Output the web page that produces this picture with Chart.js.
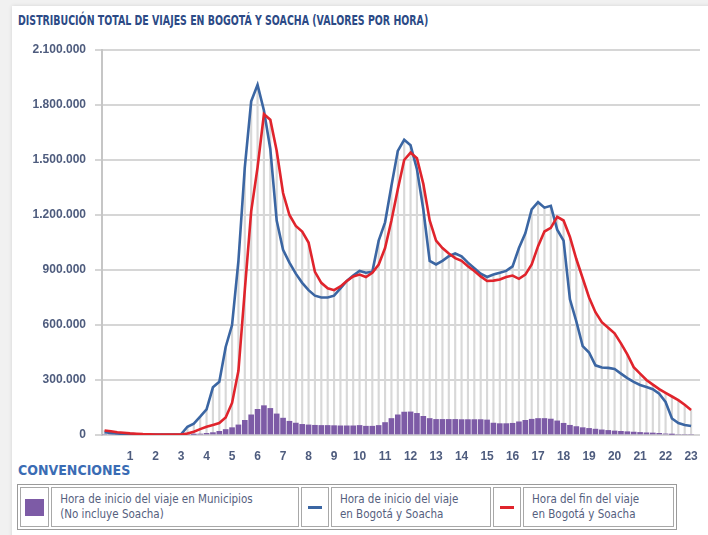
<!DOCTYPE html>
<html>
<head>
<meta charset="utf-8">
<script src="https://cdn.jsdelivr.net/npm/chart.js@4.4.1/dist/chart.umd.min.js"></script>
<style>
  html, body { margin: 0; padding: 0; }
  body { width: 708px; height: 535px; background: #f1f1f1; position: relative; overflow: hidden;
         font-family: "DejaVu Sans Condensed", "Liberation Sans", sans-serif; }
  #panel { position: absolute; left: 12px; top: 6px; width: 700px; height: 535px; background: #fff;
           box-shadow: 0 0 4px rgba(0,0,0,0.12); }
  #title { position: absolute; left: 18px; top: 12px; font-size: 14.5px; font-weight: bold; color: #2c4a86;
           white-space: nowrap; transform-origin: 0 0; }
  #chart { position: absolute; left: 0; top: 0; }
  #conv { position: absolute; left: 18px; top: 462px; font-size: 14px; font-weight: bold; color: #3a6cb4;
          white-space: nowrap; transform-origin: 0 0; }
  #legend { position: absolute; left: 17px; top: 484px; width: 660px; height: 46px; table-layout: fixed;
            border: 1px solid #9a9a9a; border-collapse: separate; border-spacing: 2px; }
  #legend td { border: 1px solid #a8a8a8; padding: 0 0 0 8px; font-size: 11.5px; line-height: 15px;
               color: #55607e; vertical-align: middle; white-space: nowrap; overflow: hidden; }
  #legend td.sw { padding: 0; text-align: center; }
  .sq { display: inline-block; width: 19px; height: 17px; background: #7d5ba6; vertical-align: middle; }
  .dash { display: inline-block; width: 14px; height: 3px; vertical-align: middle; }
</style>
</head>
<body>
<div id="panel"></div>
<div id="title">DISTRIBUCIÓN TOTAL DE VIAJES EN BOGOTÁ Y SOACHA (VALORES POR HORA)</div>
<canvas id="chart" width="708" height="460"></canvas>
<div id="conv">CONVENCIONES</div>
<table id="legend">
  <colgroup>
    <col style="width:29px"><col style="width:246px"><col style="width:28px">
    <col style="width:159px"><col style="width:28px"><col style="width:150px">
  </colgroup>
  <tr>
    <td class="sw"><span class="sq"></span></td>
    <td>Hora de inicio del viaje en Municipios<br>(No incluye Soacha)</td>
    <td class="sw"><span class="dash" style="background:#3b66a3"></span></td>
    <td>Hora de inicio del viaje<br>en Bogotá y Soacha</td>
    <td class="sw"><span class="dash" style="background:#e0242c"></span></td>
    <td>Hora del fin del viaje<br>en Bogotá y Soacha</td>
  </tr>
</table>
<script>
// quarter-hour slots 0:00 .. 23:00
const hours = Array.from({ length: 93 }, (_, i) => i / 4);
const hourTicks = [1, 2, 3, 4, 5, 6, 7, 8, 9, 10, 11, 12, 13, 14, 15, 16, 17, 18, 19, 20, 21, 22, 23];
const yTicks = [0, 300000, 600000, 900000, 1200000, 1500000, 1800000, 2100000];

// values in thousands of trips
const inicioBogota = [
  15, 11, 8, 6, 5, 4, 4, 3, 3, 3, 3, 3, 4, 45, 62, 100,
  140, 260, 290, 480, 600, 950, 1460, 1820, 1910, 1770, 1560, 1170, 1010, 940, 880, 830,
  790, 760, 750, 750, 760, 800, 840, 870, 895, 885, 890, 1060, 1160, 1360, 1550, 1610,
  1580, 1450, 1230, 950, 930, 950, 975, 990, 975, 940, 910, 880, 862, 875, 885, 895,
  920, 1020, 1100, 1230, 1270, 1240, 1250, 1120, 1060, 740, 620, 485, 450, 380, 368, 366,
  360, 335, 310, 290, 273, 262, 250, 225, 180, 90, 65, 54, 49
];
const finBogota = [
  25, 20, 15, 12, 9, 7, 5, 4, 3, 2, 2, 2, 2, 8, 18, 32,
  45, 55, 65, 95, 175, 350, 790, 1220, 1460, 1750, 1720, 1550, 1320, 1200, 1140, 1110,
  1050, 890, 830, 800, 790, 810, 840, 865, 875, 862, 885, 930, 1020, 1170, 1340, 1500,
  1540, 1510, 1370, 1170, 1060, 1020, 990, 965, 950, 920, 895, 865, 840, 842, 848, 862,
  870, 852, 875, 930, 1030, 1110, 1130, 1190, 1170, 1080, 960, 855, 750, 670, 615, 585,
  555, 500, 440, 370, 335, 300, 275, 250, 230, 210, 190, 165, 136
];
const inicioMunicipios = [
  0, 0, 0, 0, 0, 0, 0, 0, 0, 0, 0, 0, 0, 0, 3, 5,
  9, 13, 20, 30, 40, 55, 80, 110, 140, 160, 145, 115, 92, 75, 65, 58,
  55, 53, 52, 52, 51, 50, 50, 50, 52, 48, 48, 52, 68, 90, 110, 125,
  126, 118, 102, 90, 85, 85, 85, 85, 84, 84, 84, 84, 82, 65, 62, 62,
  64, 72, 80, 86, 90, 90, 87, 77, 64, 53, 46, 40, 36, 32, 28, 25,
  22, 20, 18, 16, 14, 12, 11, 9, 6, 3, 0, 0, 0
];

const pts = arr => arr.map((v, i) => ({ x: hours[i], y: v * 1000 }));
// thin grey drop lines up to the higher of the two curves
const dropLines = inicioBogota.map((v, i) => Math.max(v, finBogota[i]));

const tickFont = { family: "'Liberation Sans', Arial, sans-serif", size: 12, weight: 'bold' };
const fmt = v => String(v).replace(/\B(?=(\d{3})+(?!\d))/g, '.');

function fitWidth(id, w) {
  const el = document.getElementById(id);
  el.style.transform = 'scaleX(' + (w / el.offsetWidth) + ')';
}
fitWidth('title', 410);
fitWidth('conv', 112);

new Chart(document.getElementById('chart').getContext('2d'), {
  type: 'bar',
  data: {
    datasets: [
      { type: 'line', data: pts(finBogota), borderColor: '#e0242c', borderWidth: 2.6, pointRadius: 0, tension: 0, order: 0 },
      { type: 'line', data: pts(inicioBogota), borderColor: '#3b66a3', borderWidth: 2.6, pointRadius: 0, tension: 0, order: 1 },
      { type: 'bar', data: pts(inicioMunicipios), backgroundColor: '#7d5ba6', barThickness: 5, grouped: false, order: 2 },
      { type: 'bar', data: pts(dropLines), backgroundColor: '#d8d8d8', barThickness: 1.5, grouped: false, order: 3 }
    ]
  },
  options: {
    responsive: false,
    animation: false,
    layout: { padding: { top: 50, right: 8, left: 0, bottom: 0 } },
    plugins: { legend: { display: false }, tooltip: { enabled: false } },
    scales: {
      x: {
        type: 'linear', min: -0.1, max: 23.35, offset: false,
        grid: { display: false }, border: { display: false },
        afterBuildTicks: s => { s.ticks = hourTicks.map(v => ({ value: v })); },
        afterFit: s => { s.height = 25; },
        ticks: { font: tickFont, color: '#4e5c7e', padding: 6, maxRotation: 0, autoSkip: false }
      },
      y: {
        min: 0, max: 2100000,
        afterBuildTicks: s => { s.ticks = yTicks.map(v => ({ value: v })); },
        afterFit: s => { s.width = 102; },
        grid: { color: '#d6d6d6', lineWidth: 2, tickLength: 7 },
        border: { color: '#c6c6c6', width: 2 },
        ticks: { font: tickFont, color: '#4e5c7e', padding: 9, callback: v => fmt(v) }
      }
    }
  }
});
</script>
</body>
</html>
